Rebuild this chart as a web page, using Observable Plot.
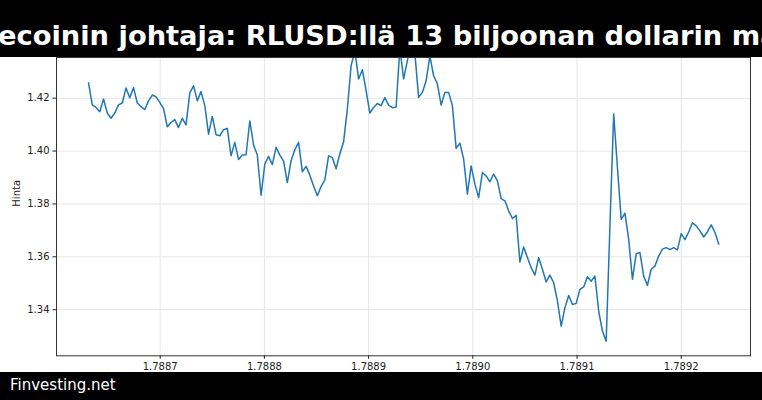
<!DOCTYPE html>
<html>
<head>
<meta charset="utf-8">
<script src="https://cdn.jsdelivr.net/npm/d3@7"></script>
<script src="https://cdn.jsdelivr.net/npm/@observablehq/plot@0.6"></script>
<style>
  html, body { margin: 0; padding: 0; background: #fff; }
  #wrap { position: relative; width: 762px; height: 400px; overflow: hidden; }
  #title { position: absolute; left: 0; top: 0; width: 762px; height: 57px; background: #000; overflow: hidden; }
  #title span { position: absolute; left: -2px; top: 22px; white-space: nowrap; color: #fff;
    font: bold 27.3px "DejaVu Sans", sans-serif; line-height: 27.3px; }
  #footer { position: absolute; left: 0; top: 372px; width: 762px; height: 28px; background: #000; overflow: hidden; }
  #footer span { position: absolute; left: 10px; top: 6px; white-space: nowrap; color: #fff;
    font: 15px "DejaVu Sans", sans-serif; line-height: 15px; }
</style>
</head>
<body>
<div id="wrap">
  <div id="chart"></div>
  <div id="title"><span>ecoinin johtaja: RLUSD:llä 13 biljoonan dollarin ma</span></div>
  <div id="footer"><span>Finvesting.net</span></div>
</div>
<script>
// Hourly samples (unix seconds), x axis shown in units of 1e9 s
const startTime = 1788631200;
const hourStep = 3600;
const price = [
  1.4258, 1.4175, 1.4165, 1.4149, 1.4197, 1.4144, 1.4124, 1.4144, 1.4175, 1.4182,
  1.4239, 1.4202, 1.4240, 1.4182, 1.4168, 1.4157, 1.4190, 1.4212, 1.4205, 1.4184,
  1.4161, 1.4092, 1.4108, 1.4119, 1.4089, 1.4124, 1.4099, 1.4220, 1.4247, 1.4190,
  1.4225, 1.4172, 1.4064, 1.4131, 1.4062, 1.4058, 1.4081, 1.4086, 1.3982, 1.4033,
  1.3968, 1.3985, 1.3986, 1.4114, 1.4023, 1.3985, 1.3833, 1.3951, 1.3980, 1.3949,
  1.4014, 1.3985, 1.3962, 1.3881, 1.3963, 1.4005, 1.4033, 1.3922, 1.3942, 1.3909,
  1.3868, 1.3831, 1.3866, 1.3891, 1.3982, 1.3975, 1.3933, 1.3990, 1.4035, 1.4159,
  1.4323, 1.4380, 1.4273, 1.4308, 1.4229, 1.4144, 1.4165, 1.4180, 1.4172, 1.4202,
  1.4174, 1.4164, 1.4167, 1.4390, 1.4273, 1.4342, 1.4400, 1.4370, 1.4203, 1.4222,
  1.4266, 1.4360, 1.4285, 1.4254, 1.4174, 1.4222, 1.4222, 1.4172, 1.4010, 1.4030,
  1.3970, 1.3837, 1.3944, 1.3875, 1.3824, 1.3919, 1.3906, 1.3884, 1.3913, 1.3887,
  1.3820, 1.3812, 1.3774, 1.3745, 1.3757, 1.3580, 1.3637, 1.3597, 1.3559, 1.3531,
  1.3597, 1.3553, 1.3505, 1.3531, 1.3502, 1.3433, 1.3338, 1.3407, 1.3454, 1.3420,
  1.3424, 1.3477, 1.3486, 1.3525, 1.3508, 1.3527, 1.3395, 1.3319, 1.3281, 1.3717,
  1.4140, 1.3938, 1.3742, 1.3765, 1.3666, 1.3515, 1.3612, 1.3616, 1.3527, 1.3492,
  1.3553, 1.3565, 1.3603, 1.3629, 1.3635, 1.3627, 1.3635, 1.3626, 1.3688, 1.3665,
  1.3694, 1.3729, 1.3717, 1.3698, 1.3675, 1.3695, 1.3721, 1.3692, 1.3648
];
const xTicks = [1.7887, 1.7888, 1.7889, 1.7890, 1.7891, 1.7892];
const yTicks = [1.34, 1.36, 1.38, 1.40, 1.42];
const yLabel = "Hinta";

const data = price.map((v, i) => ({ t: (startTime + i * hourStep) / 1e9, v }));

const chart = Plot.plot({
  width: 762,
  height: 400,
  marginLeft: 56,
  marginRight: 12,
  marginTop: 57,
  marginBottom: 44.7,
  style: { fontFamily: "DejaVu Sans, sans-serif", fontSize: "10px", color: "#222", background: "#fff" },
  x: { domain: [1.78860048, 1.7892665] },
  y: { domain: [1.32256, 1.4354] },
  marks: [
    Plot.gridX(xTicks, { stroke: "#e6e6e6", strokeOpacity: 1, strokeWidth: 1 }),
    Plot.gridY(yTicks, { stroke: "#e6e6e6", strokeOpacity: 1, strokeWidth: 1 }),
    Plot.line(data, { x: "t", y: "v", stroke: "#1f77b4", strokeWidth: 1.5, clip: true }),
    Plot.frame({ stroke: "#333", strokeWidth: 1 }),
    Plot.axisX(xTicks, { tickSize: 3.5, tickPadding: 3.5, tickFormat: d => d.toFixed(4), label: null, fontSize: 10 }),
    Plot.axisY(yTicks, { tickSize: 3.5, tickPadding: 3.5, tickFormat: d => d.toFixed(2), label: null, fontSize: 10 }),
    Plot.text([yLabel], { frameAnchor: "left", rotate: -90, dx: -40, fontSize: 10, fill: "#222" })
  ]
});
document.getElementById("chart").appendChild(chart);
</script>
</body>
</html>
